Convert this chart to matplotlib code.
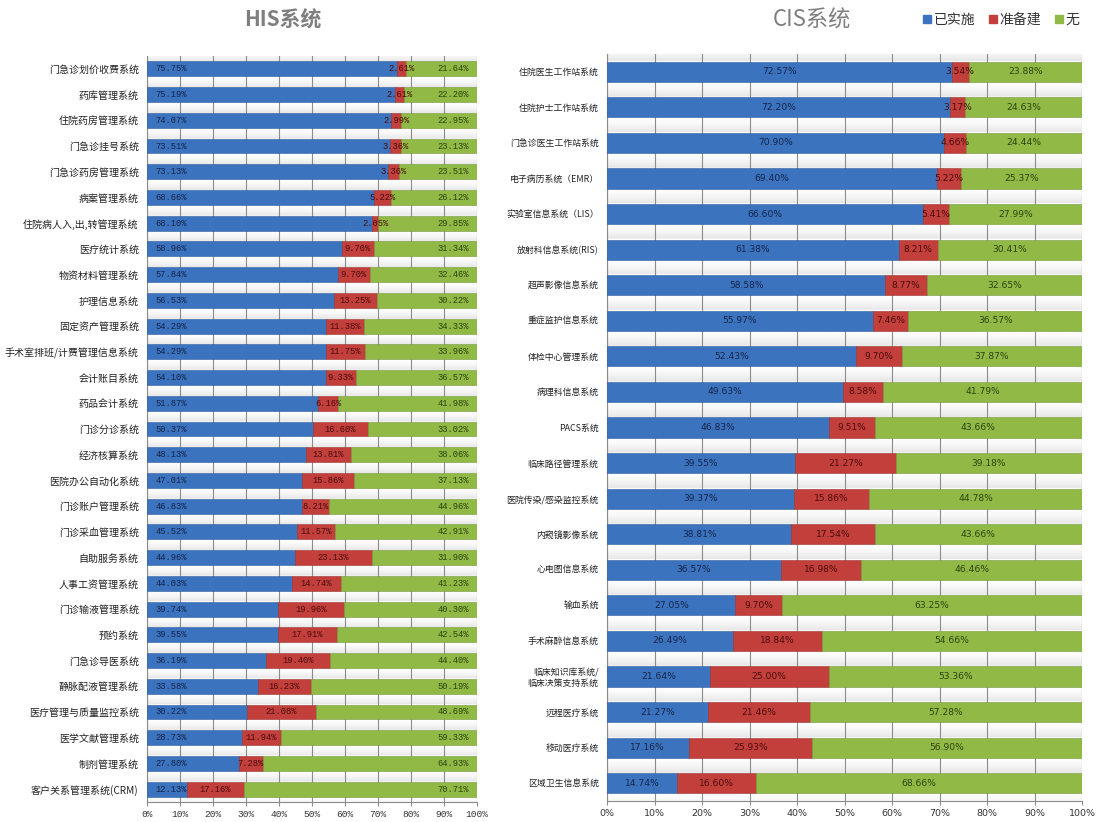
import numpy as np
import matplotlib
matplotlib.use("Agg")
import matplotlib.pyplot as plt
from matplotlib.patches import Patch

plt.rcParams['font.family'] = ['Noto Sans CJK SC', 'DejaVu Sans']

# HIS systems: implemented / planned / none (%)
his_names = ['门急诊划价收费系统', '药库管理系统', '住院药房管理系统', '门急诊挂号系统',
             '门急诊药房管理系统', '病案管理系统', '住院病人入,出,转管理系统', '医疗统计系统',
             '物资材料管理系统', '护理信息系统', '固定资产管理系统', '手术室排班/计费管理信息系统',
             '会计账目系统', '药品会计系统', '门诊分诊系统', '经济核算系统', '医院办公自动化系统',
             '门诊账户管理系统', '门诊采血管理系统', '自助服务系统', '人事工资管理系统',
             '门诊输液管理系统', '预约系统', '门急诊导医系统', '静脉配液管理系统',
             '医疗管理与质量监控系统', '医学文献管理系统', '制剂管理系统', '客户关系管理系统(CRM)']
his_done = [75.75, 75.19, 74.07, 73.51, 73.13, 68.66, 68.10, 58.96, 57.84, 56.53, 54.29, 54.29,
            54.10, 51.87, 50.37, 48.13, 47.01, 46.83, 45.52, 44.96, 44.03, 39.74, 39.55, 36.19,
            33.58, 30.22, 28.73, 27.80, 12.13]
his_plan = [2.61, 2.61, 2.99, 3.36, 3.36, 5.22, 2.05, 9.70, 9.70, 13.25, 11.38, 11.75,
            9.33, 6.16, 16.60, 13.81, 15.86, 8.21, 11.57, 23.13, 14.74, 19.96, 17.91, 19.40,
            16.23, 21.08, 11.94, 7.28, 17.16]
his_none = [21.64, 22.20, 22.95, 23.13, 23.51, 26.12, 29.85, 31.34, 32.46, 30.22, 34.33, 33.96,
            36.57, 41.98, 33.02, 38.06, 37.13, 44.96, 42.91, 31.90, 41.23, 40.30, 42.54, 44.40,
            50.19, 48.69, 59.33, 64.93, 70.71]

# CIS systems
cis_names = ['住院医生工作站系统', '住院护士工作站系统', '门急诊医生工作站系统', '电子病历系统（EMR）',
             '实验室信息系统（LIS）', '放射科信息系统(RIS)', '超声影像信息系统', '重症监护信息系统',
             '体检中心管理系统', '病理科信息系统', 'PACS系统', '临床路径管理系统',
             '医院传染/感染监控系统', '内窥镜影像系统', '心电图信息系统', '输血系统',
             '手术麻醉信息系统', '临床知识库系统/\n临床决策支持系统', '远程医疗系统',
             '移动医疗系统', '区域卫生信息系统']
cis_done = [72.57, 72.20, 70.90, 69.40, 66.60, 61.38, 58.58, 55.97, 52.43, 49.63, 46.83,
            39.55, 39.37, 38.81, 36.57, 27.05, 26.49, 21.64, 21.27, 17.16, 14.74]
cis_plan = [3.54, 3.17, 4.66, 5.22, 5.41, 8.21, 8.77, 7.46, 9.70, 8.58, 9.51,
            21.27, 15.86, 17.54, 16.98, 9.70, 18.84, 25.00, 21.46, 25.93, 16.60]
cis_none = [23.88, 24.63, 24.44, 25.37, 27.99, 30.41, 32.65, 36.57, 37.87, 41.79, 43.66,
            39.18, 44.78, 43.66, 46.46, 63.25, 54.66, 53.36, 57.28, 56.90, 68.66]

series_names = ['已实施', '准备建', '无']
BLUE, RED, GREEN = '#3b73be', '#c23f3b', '#90ba45'
TXT = ['#14244a', '#4a0c0c', '#2c4210']


def row_background(ax, n, h):
    # white just under a bar, fading to light grey just above the next one
    yy = np.linspace(-0.5, n - 0.5, 1200)
    frac = (yy + 0.5) % 1.0
    g = ((frac - (0.5 + h / 2)) % 1.0) / (1 - h)
    shade = np.where(g <= 1, g, 0) ** 1.5
    img = 1 - 0.10 * shade[:, None]
    ax.imshow(np.repeat(img, 2, axis=1), cmap='gray', vmin=0, vmax=1, aspect='auto',
              extent=[0, 100, n - 0.5, -0.5], origin='upper', zorder=0, interpolation='bilinear')


def draw(ax, names, done, plan, none, h, mono):
    n = len(names)
    y = np.arange(n)
    row_background(ax, n, h)
    done = np.array(done); plan = np.array(plan); none = np.array(none)
    ax.barh(y, done, height=h, color=BLUE, edgecolor='#2d5c9c', linewidth=0.4, zorder=3)
    ax.barh(y, plan, left=done, height=h, color=RED, edgecolor='#9a302d', linewidth=0.4, zorder=3)
    ax.barh(y, none, left=done + plan, height=h, color=GREEN, edgecolor='#73963a', linewidth=0.4, zorder=3)

    for x in range(0, 101, 10):
        ax.axvline(x, color='#8c8c8c', lw=0.8, zorder=1)

    fam = ['Liberation Mono', 'DejaVu Sans Mono'] if mono else ['Liberation Sans Narrow', 'DejaVu Sans']
    fs = 6.3 if mono else 6.6
    for i in range(n):
        if mono:
            ax.text(2.5, i, f'{done[i]:.2f}%', ha='left', va='center', fontsize=fs,
                    family=fam, color=TXT[0], zorder=4)
            ax.text(97.5, i, f'{none[i]:.2f}%', ha='right', va='center', fontsize=fs,
                    family=fam, color=TXT[2], zorder=4)
        else:
            ax.text(done[i] / 2, i, f'{done[i]:.2f}%', ha='center', va='center', fontsize=fs,
                    family=fam, color=TXT[0], zorder=4)
            ax.text(done[i] + plan[i] + none[i] / 2, i, f'{none[i]:.2f}%', ha='center',
                    va='center', fontsize=fs, family=fam, color=TXT[2], zorder=4)
        ax.text(done[i] + plan[i] / 2, i, f'{plan[i]:.2f}%', ha='center', va='center',
                fontsize=fs, family=fam, color=TXT[1], zorder=4)

    ax.set_xlim(0, 100)
    ax.set_ylim(n - 0.5, -0.5)
    ax.set_yticks(y)
    ax.set_yticklabels(names)
    ax.set_xticks(range(0, 101, 10))
    ax.set_xticklabels([f'{v}%' for v in range(0, 101, 10)], family=fam, fontsize=6.8)
    ax.tick_params(axis='y', length=0, pad=6)
    ax.tick_params(axis='x', length=3, color='#8c8c8c', colors='#333333', pad=3)
    for s in ['top', 'right']:
        ax.spines[s].set_visible(False)
    ax.spines['left'].set_color('#8c8c8c')
    ax.spines['bottom'].set_color('#8c8c8c')


fig = plt.figure(figsize=(11.06, 8.22), dpi=100)

ax1 = fig.add_axes([147 / 1106, 1 - 802 / 822, 330 / 1106, (802 - 56) / 822])
draw(ax1, his_names, his_done, his_plan, his_none, 0.58, True)
for lab in ax1.get_yticklabels():
    lab.set_fontsize(7.2)
    lab.set_color('#222222')

ax2 = fig.add_axes([607 / 1106, 1 - 801 / 822, 475 / 1106, (801 - 54) / 822])
draw(ax2, cis_names, cis_done, cis_plan, cis_none, 0.57, False)
for lab in ax2.get_yticklabels():
    lab.set_fontsize(6.4)
    lab.set_color('#222222')

fig.text(283 / 1106, 1 - 20 / 822, 'HIS系统', ha='center', va='center', fontsize=15,
         fontweight='bold', color='#7f7f7f')
fig.text(812 / 1106, 1 - 20 / 822, 'CIS系统', ha='center', va='center', fontsize=16,
         color='#7f7f7f')

handles = [Patch(color=c) for c in (BLUE, RED, GREEN)]
fig.legend(handles, series_names, loc='center right', bbox_to_anchor=(1092 / 1106, 1 - 20 / 822),
           ncol=3, frameon=False, fontsize=10, handlelength=0.55, handleheight=0.55,
           handletextpad=0.2, columnspacing=1.0, labelcolor='#333333')

fig.savefig('out.png', dpi=100)
